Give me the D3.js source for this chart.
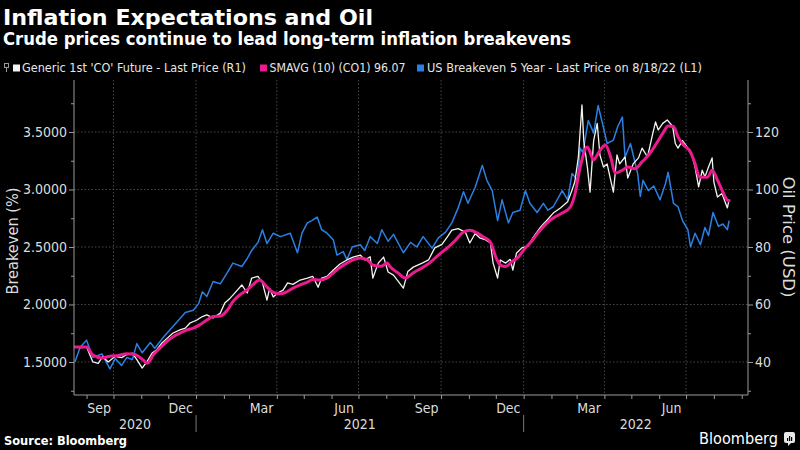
<!DOCTYPE html>
<html><head><meta charset="utf-8">
<script src="https://cdn.jsdelivr.net/npm/d3@7/dist/d3.min.js"></script>
<style>
html,body{margin:0;padding:0;background:#000;}
svg{display:block;font-family:"DejaVu Sans","Noto Sans",sans-serif;font-stretch:condensed;}
</style></head><body>
<svg id="chart" width="800" height="450"></svg>
<script>
// ---------------- DATA ----------------
const titleText = "Inflation Expectations and Oil";
const subtitleText = "Crude prices continue to lead long-term inflation breakevens";
const legendLabels = ["Generic 1st 'CO' Future - Last Price (R1)", "SMAVG (10) (CO1) 96.07", "US Breakeven 5 Year - Last Price on 8/18/22 (L1)"];
const leftTicks = [1.5, 2.0, 2.5, 3.0, 3.5];
const leftMinorTicks = [1.25, 1.75, 2.25, 2.75, 3.25, 3.75];
const rightTicks = [40, 60, 80, 100, 120];
const rightMinorTicks = [30, 50, 70, 90, 110, 130];
const monthLabelDates = ["2020-09-15","2020-12-15","2021-03-15","2021-06-15","2021-09-15","2021-12-15","2022-03-15","2022-06-15"];
const monthLabelTexts = ["Sep","Dec","Mar","Jun","Sep","Dec","Mar","Jun"];
const yearLabels = ["2020","2021","2022"];
const yearBounds = ["2020-08-18","2021-01-01","2022-01-01","2022-09-08"];
const gridDates = ["2020-10-01","2021-01-01","2021-04-01","2021-07-01","2021-10-01","2022-01-01","2022-04-01","2022-07-01"];

// US Breakeven 5 Year (%), left axis
const breakevenSeries = [["2020-08-19",1.50],["2020-08-25",1.63],["2020-09-01",1.69],["2020-09-08",1.54],["2020-09-18",1.57],["2020-09-27",1.44],["2020-10-03",1.53],["2020-10-10",1.47],["2020-10-16",1.54],["2020-10-22",1.52],["2020-10-27",1.66],["2020-11-02",1.58],["2020-11-11",1.67],["2020-11-16",1.62],["2020-11-25",1.71],["2020-12-03",1.78],["2020-12-11",1.85],["2020-12-20",1.93],["2020-12-29",1.95],["2021-01-04",2.01],["2021-01-08",2.11],["2021-01-13",2.07],["2021-01-20",2.20],["2021-01-28",2.18],["2021-02-05",2.28],["2021-02-11",2.36],["2021-02-21",2.33],["2021-02-27",2.40],["2021-03-04",2.47],["2021-03-11",2.54],["2021-03-16",2.65],["2021-03-21",2.53],["2021-03-28",2.62],["2021-04-05",2.59],["2021-04-16",2.62],["2021-04-24",2.45],["2021-04-29",2.62],["2021-05-05",2.71],["2021-05-10",2.73],["2021-05-16",2.76],["2021-05-21",2.65],["2021-05-27",2.62],["2021-06-03",2.56],["2021-06-07",2.43],["2021-06-14",2.46],["2021-06-18",2.39],["2021-06-24",2.50],["2021-07-03",2.52],["2021-07-08",2.47],["2021-07-14",2.59],["2021-07-22",2.53],["2021-07-27",2.65],["2021-08-03",2.55],["2021-08-09",2.61],["2021-08-20",2.45],["2021-08-28",2.54],["2021-09-04",2.50],["2021-09-11",2.59],["2021-09-21",2.49],["2021-09-28",2.58],["2021-10-06",2.63],["2021-10-13",2.71],["2021-10-20",2.84],["2021-10-26",2.98],["2021-10-31",2.88],["2021-11-08",3.02],["2021-11-16",3.21],["2021-11-21",3.08],["2021-11-27",2.99],["2021-12-03",2.73],["2021-12-08",2.91],["2021-12-15",2.71],["2021-12-20",2.80],["2021-12-28",2.82],["2022-01-03",2.99],["2022-01-08",2.88],["2022-01-16",2.80],["2022-01-23",2.88],["2022-01-28",2.82],["2022-02-03",2.85],["2022-02-13",2.99],["2022-02-19",2.91],["2022-02-24",3.14],["2022-03-02",3.08],["2022-03-05",3.36],["2022-03-08",3.32],["2022-03-14",3.60],["2022-03-20",3.49],["2022-03-25",3.73],["2022-03-30",3.57],["2022-04-04",3.40],["2022-04-11",3.43],["2022-04-16",3.55],["2022-04-21",3.63],["2022-04-24",3.28],["2022-04-30",3.40],["2022-05-08",3.14],["2022-05-11",2.94],["2022-05-14",3.08],["2022-05-20",2.99],["2022-05-26",3.03],["2022-06-02",2.91],["2022-06-08",3.05],["2022-06-11",3.15],["2022-06-17",2.88],["2022-06-22",2.85],["2022-06-27",2.73],["2022-07-03",2.65],["2022-07-06",2.50],["2022-07-11",2.62],["2022-07-17",2.52],["2022-07-22",2.67],["2022-07-26",2.60],["2022-07-31",2.80],["2022-08-06",2.68],["2022-08-11",2.70],["2022-08-16",2.65],["2022-08-18",2.73]];

// Generic 1st 'CO' Future (USD), right axis
const oilSeries = [["2020-08-19",45.2],["2020-08-25",45.0],["2020-09-01",45.2],["2020-09-08",40.0],["2020-09-14",39.5],["2020-09-19",41.9],["2020-09-25",40.0],["2020-10-03",42.0],["2020-10-10",41.5],["2020-10-16",42.6],["2020-10-22",43.1],["2020-10-27",40.8],["2020-11-02",37.9],["2020-11-07",40.0],["2020-11-13",43.1],["2020-11-18",44.2],["2020-11-24",46.6],["2020-11-30",48.3],["2020-12-06",50.0],["2020-12-14",51.2],["2020-12-20",51.8],["2020-12-25",53.5],["2021-01-02",54.6],["2021-01-08",55.8],["2021-01-13",56.4],["2021-01-20",55.3],["2021-01-28",57.0],["2021-02-02",60.5],["2021-02-08",62.2],["2021-02-16",65.0],["2021-02-21",66.8],["2021-02-27",64.0],["2021-03-04",69.2],["2021-03-11",69.8],["2021-03-16",67.5],["2021-03-21",61.5],["2021-03-24",65.6],["2021-03-28",62.6],["2021-04-02",64.0],["2021-04-08",65.0],["2021-04-13",67.5],["2021-04-19",67.0],["2021-04-27",68.5],["2021-05-05",69.2],["2021-05-11",69.8],["2021-05-17",66.0],["2021-05-21",69.2],["2021-05-27",69.8],["2021-06-03",72.0],["2021-06-10",74.0],["2021-06-18",75.5],["2021-06-25",76.5],["2021-07-03",77.2],["2021-07-08",75.5],["2021-07-14",76.6],["2021-07-17",69.2],["2021-07-23",74.4],["2021-07-29",76.5],["2021-08-03",71.3],["2021-08-09",70.2],["2021-08-20",65.7],["2021-08-25",71.5],["2021-08-31",73.0],["2021-09-10",74.4],["2021-09-17",75.5],["2021-09-24",79.7],["2021-10-02",80.9],["2021-10-08",83.5],["2021-10-13",85.9],["2021-10-20",86.4],["2021-10-28",85.2],["2021-11-02",81.4],["2021-11-08",84.7],["2021-11-13",83.2],["2021-11-19",82.6],["2021-11-25",81.4],["2021-11-28",74.4],["2021-12-03",69.2],["2021-12-06",75.5],["2021-12-12",74.4],["2021-12-17",75.7],["2021-12-20",72.0],["2021-12-24",77.8],["2021-12-30",79.7],["2022-01-06",80.3],["2022-01-12",83.5],["2022-01-20",87.0],["2022-01-27",89.3],["2022-02-03",91.8],["2022-02-11",93.6],["2022-02-19",95.7],["2022-02-24",99.8],["2022-02-27",102.6],["2022-03-03",111.3],["2022-03-07",129.4],["2022-03-09",117.0],["2022-03-13",107.8],["2022-03-16",99.1],["2022-03-20",117.0],["2022-03-24",123.0],["2022-03-27",112.0],["2022-03-31",107.8],["2022-04-04",108.9],["2022-04-08",103.3],["2022-04-11",99.1],["2022-04-15",112.0],["2022-04-18",108.9],["2022-04-24",111.3],["2022-04-27",104.0],["2022-05-03",108.9],["2022-05-09",111.0],["2022-05-13",114.4],["2022-05-19",111.3],["2022-05-25",119.6],["2022-05-28",123.5],["2022-05-31",120.7],["2022-06-05",123.0],["2022-06-10",124.2],["2022-06-16",122.0],["2022-06-19",116.0],["2022-06-22",114.4],["2022-06-27",117.0],["2022-07-03",114.4],["2022-07-08",111.3],["2022-07-11",107.8],["2022-07-15",100.9],["2022-07-19",106.7],["2022-07-22",104.4],["2022-07-26",107.8],["2022-07-30",111.0],["2022-08-01",102.6],["2022-08-05",97.4],["2022-08-10",98.6],["2022-08-16",93.6],["2022-08-18",96.6]];

// SMAVG (10) of CO1 (USD), right axis
const smaSeries = [["2020-08-19",45.2],["2020-09-01",45.2],["2020-09-08",42.4],["2020-09-18",41.4],["2020-09-27",42.0],["2020-10-06",42.3],["2020-10-16",42.9],["2020-10-25",42.6],["2020-11-03",40.7],["2020-11-08",39.6],["2020-11-14",42.3],["2020-11-22",44.9],["2020-11-30",47.3],["2020-12-06",48.7],["2020-12-14",50.0],["2020-12-22",51.2],["2020-12-29",51.8],["2021-01-05",52.9],["2021-01-13",54.6],["2021-01-20",55.8],["2021-01-28",56.0],["2021-02-05",58.1],["2021-02-11",61.0],["2021-02-19",63.4],["2021-02-27",65.1],["2021-03-05",66.8],["2021-03-13",68.5],["2021-03-19",66.8],["2021-03-24",65.1],["2021-03-30",64.0],["2021-04-05",63.7],["2021-04-12",64.4],["2021-04-19",65.7],["2021-04-27",66.8],["2021-05-05",67.8],["2021-05-11",68.7],["2021-05-19",68.5],["2021-05-27",69.2],["2021-06-03",71.0],["2021-06-10",72.8],["2021-06-18",74.4],["2021-06-25",75.5],["2021-07-03",76.2],["2021-07-11",75.5],["2021-07-17",73.7],["2021-07-26",73.3],["2021-08-02",74.4],["2021-08-05",73.2],["2021-08-14",71.0],["2021-08-22",69.2],["2021-08-31",71.0],["2021-09-10",72.8],["2021-09-18",74.4],["2021-09-28",77.2],["2021-10-08",79.7],["2021-10-16",82.0],["2021-10-26",85.2],["2021-11-02",85.8],["2021-11-10",84.9],["2021-11-17",83.5],["2021-11-25",81.7],["2021-12-01",76.5],["2021-12-06",73.7],["2021-12-12",73.2],["2021-12-19",74.9],["2021-12-26",76.5],["2022-01-03",79.7],["2022-01-10",82.0],["2022-01-17",84.9],["2022-01-27",88.3],["2022-02-03",90.1],["2022-02-13",91.8],["2022-02-22",93.9],["2022-02-27",98.1],["2022-03-05",107.8],["2022-03-13",114.8],["2022-03-20",110.3],["2022-03-25",112.6],["2022-04-02",115.5],["2022-04-08",111.3],["2022-04-13",105.7],["2022-04-21",106.7],["2022-04-27",107.8],["2022-05-05",107.2],["2022-05-13",109.6],["2022-05-20",111.9],["2022-05-28",115.5],["2022-06-05",119.5],["2022-06-11",122.1],["2022-06-17",121.9],["2022-06-22",118.3],["2022-06-28",115.5],["2022-07-06",113.0],["2022-07-11",109.0],["2022-07-16",104.3],["2022-07-25",104.3],["2022-07-30",106.7],["2022-08-05",103.3],["2022-08-10",99.8],["2022-08-17",96.1],["2022-08-18",96.07]];

// ---------------- CHART ----------------
const W = 800, H = 450;
const M = {left: 74, right: 748, top: 80, bottom: 395};
const parse = d3.timeParse("%Y-%m-%d");
const svg = d3.select("#chart");
svg.append("rect").attr("width", W).attr("height", H).attr("fill", "#000");

const x = d3.scaleTime().domain([parse("2020-08-18"), parse("2022-09-08")]).range([M.left, M.right]);
const yL = d3.scaleLinear().domain([1.2130, 3.9522]).range([M.bottom, M.top]);
const yR = d3.scaleLinear().domain([28.52, 138.09]).range([M.bottom, M.top]);

const gridCol = "#5a5a5a", axisCol = "#9a9a9a", txtCol = "#dcdcdc";

// grid
const grid = svg.append("g");
grid.selectAll(".hg").data(leftTicks).join("line")
  .attr("x1", M.left).attr("x2", M.right)
  .attr("y1", d => yL(d)).attr("y2", d => yL(d))
  .attr("stroke", gridCol).attr("stroke-width", 0.8).attr("stroke-dasharray", "1.5,2");
grid.selectAll(".vg").data(gridDates).join("line")
  .attr("x1", d => x(parse(d))).attr("x2", d => x(parse(d)))
  .attr("y1", M.top).attr("y2", M.bottom)
  .attr("stroke", gridCol).attr("stroke-width", 0.8).attr("stroke-dasharray", "1.5,2");

// lines
svg.append("clipPath").attr("id", "clip").append("rect")
  .attr("x", M.left).attr("y", M.top).attr("width", M.right - M.left).attr("height", M.bottom - M.top);
const plot = svg.append("g").attr("clip-path", "url(#clip)");
const lineL = d3.line().x(d => x(parse(d[0]))).y(d => yL(d[1]));
const lineR = d3.line().x(d => x(parse(d[0]))).y(d => yR(d[1]));
const lineSma = d3.line().x(d => x(parse(d[0]))).y(d => yR(d[1])).curve(d3.curveMonotoneX);
plot.append("path").datum(breakevenSeries).attr("d", lineL)
  .attr("fill", "none").attr("stroke", "#2a80e4").attr("stroke-width", 1.5).attr("stroke-linejoin", "round");
plot.append("path").datum(oilSeries).attr("d", lineR)
  .attr("fill", "none").attr("stroke", "#f4f4f0").attr("stroke-width", 1.3).attr("stroke-linejoin", "round");
plot.append("path").datum(smaSeries).attr("d", lineSma)
  .attr("fill", "none").attr("stroke", "#ec1a8e").attr("stroke-width", 3).attr("stroke-linejoin", "round").attr("stroke-linecap", "round");

// axes
function styleAxis(g, fs) {
  g.select(".domain").attr("stroke", axisCol);
  g.selectAll(".tick line").attr("stroke", axisCol);
  g.selectAll(".tick text").attr("fill", txtCol).style("font-size", fs + "px")
    .style("font-family", '"DejaVu Sans","Noto Sans",sans-serif').style("font-stretch", "condensed");
}
const gL = svg.append("g").attr("transform", `translate(${M.left},0)`)
  .call(d3.axisLeft(yL).tickValues(leftTicks).tickFormat(d3.format(".4f")).tickSize(5).tickPadding(2));
gL.select(".domain").attr("d", `M0,${M.top}V${M.bottom}`);
styleAxis(gL, 14);
const gLm = svg.append("g").attr("transform", `translate(${M.left},0)`)
  .call(d3.axisLeft(yL).tickValues(leftMinorTicks).tickFormat("").tickSize(3));
gLm.select(".domain").remove(); styleAxis(gLm, 14);

const gR = svg.append("g").attr("transform", `translate(${M.right},0)`)
  .call(d3.axisRight(yR).tickValues(rightTicks).tickSize(5).tickPadding(2));
gR.select(".domain").attr("d", `M0,${M.top}V${M.bottom}`);
styleAxis(gR, 14);
const gRm = svg.append("g").attr("transform", `translate(${M.right},0)`)
  .call(d3.axisRight(yR).tickValues(rightMinorTicks).tickFormat("").tickSize(3));
gRm.select(".domain").remove(); styleAxis(gRm, 14);

const gB = svg.append("g").attr("transform", `translate(0,${M.bottom})`)
  .call(d3.axisBottom(x).ticks(d3.timeMonth.every(1)).tickFormat("").tickSize(4));
gB.select(".domain").attr("d", `M${M.left},0H${M.right}`);
styleAxis(gB, 14);

// month labels
svg.append("g").selectAll("text").data(monthLabelDates).join("text")
  .attr("x", d => x(parse(d))).attr("y", 413)
  .attr("text-anchor", "middle").attr("fill", txtCol).style("font-size", "14px")
  .text((d, i) => monthLabelTexts[i]);
// year labels + separators
svg.append("g").selectAll("text").data(yearLabels).join("text")
  .attr("x", (d, i) => (x(parse(yearBounds[i])) + x(parse(yearBounds[i + 1]))) / 2).attr("y", 429)
  .attr("text-anchor", "middle").attr("fill", txtCol).style("font-size", "14px")
  .text(d => d);
svg.append("g").selectAll("line").data(yearBounds.slice(1, 3)).join("line")
  .attr("x1", d => x(parse(d))).attr("x2", d => x(parse(d)))
  .attr("y1", 415).attr("y2", 432).attr("stroke", "#777").attr("stroke-width", 1);

// axis titles
svg.append("text").attr("transform", "translate(18,241) rotate(-90)")
  .attr("text-anchor", "middle").attr("fill", txtCol).style("font-size", "15px")
  .attr("textLength", 107).attr("lengthAdjust", "spacingAndGlyphs").text("Breakeven (%)");
svg.append("text").attr("transform", "translate(783,237) rotate(90)")
  .attr("text-anchor", "middle").attr("fill", txtCol).style("font-size", "15px")
  .attr("textLength", 121).attr("lengthAdjust", "spacingAndGlyphs").text("Oil Price (USD)");

// titles
svg.append("text").attr("x", 3).attr("y", 25).attr("fill", "#fff")
  .style("font-size", "21.5px").style("font-weight", "bold")
  .attr("textLength", 370).attr("lengthAdjust", "spacingAndGlyphs").text(titleText);
svg.append("text").attr("x", 3).attr("y", 45).attr("fill", "#fff")
  .style("font-size", "17.5px").style("font-weight", "bold")
  .attr("textLength", 568).attr("lengthAdjust", "spacingAndGlyphs").text(subtitleText);

// legend
const lg = svg.append("g");
lg.append("rect").attr("x", 4.5).attr("y", 63.5).attr("width", 4).attr("height", 4)
  .attr("fill", "none").attr("stroke", "#999").attr("stroke-width", 1);
lg.append("line").attr("x1", 6.5).attr("x2", 6.5).attr("y1", 67.5).attr("y2", 72).attr("stroke", "#999");
const legendX = [13, 260, 417];
const legendTextX = [22, 269.5, 427];
const legendLen = [224, 136, 275];
const legendColors = ["#f4f4f0", "#ec1a8e", "#2a80e4"];
legendLabels.forEach((t, i) => {
  lg.append("rect").attr("x", legendX[i]).attr("y", 64.5).attr("width", 7).attr("height", 7).attr("fill", legendColors[i]);
  lg.append("text").attr("x", legendTextX[i]).attr("y", 72).attr("fill", "#e6e6e6")
    .style("font-size", "12.5px").attr("textLength", legendLen[i]).attr("lengthAdjust", "spacingAndGlyphs").text(t);
});

// footer
svg.append("text").attr("x", 4).attr("y", 445).attr("fill", "#fff")
  .style("font-size", "12.5px").style("font-weight", "bold")
  .attr("textLength", 123).attr("lengthAdjust", "spacingAndGlyphs").text("Source: Bloomberg");
svg.append("text").attr("x", 699).attr("y", 444).attr("fill", "#fff")
  .style("font-size", "15.5px")
  .attr("textLength", 79).attr("lengthAdjust", "spacingAndGlyphs").text("Bloomberg");
const logo = svg.append("g").attr("transform", "translate(784,432)");
logo.append("rect").attr("width", 11).attr("height", 11).attr("rx", 2).attr("fill", "#e8e8e8");
logo.append("path").attr("d", "M4,11 L4,14 L7,11 Z").attr("fill", "#e8e8e8");
[[3,6,2],[5,4,4],[7,5,3]].forEach(b => logo.append("rect").attr("x", b[0]).attr("y", b[1]).attr("width", 1.2).attr("height", 9 - b[1]).attr("fill", "#000"));
</script>
</body></html>
